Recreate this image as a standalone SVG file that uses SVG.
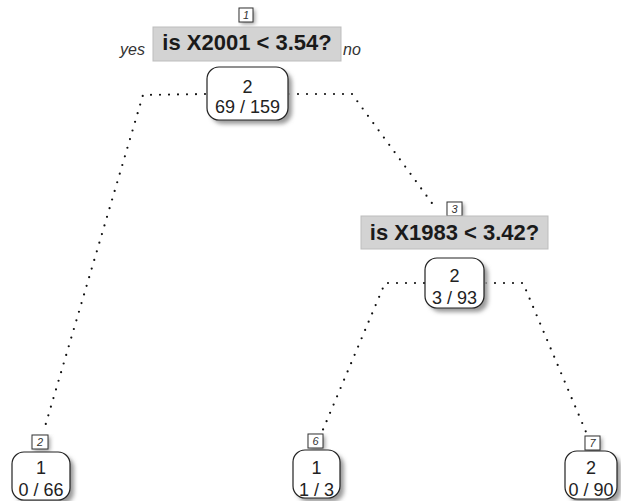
<svg xmlns="http://www.w3.org/2000/svg" width="621" height="501" viewBox="0 0 621 501">
<defs>
<filter id="sh" x="-20%" y="-20%" width="150%" height="150%">
<feGaussianBlur stdDeviation="2"/>
</filter>
</defs>
<style>
.split{fill:#d3d3d3;stroke:#bdbdbd;stroke-width:1}
.splittxt{font-family:"Liberation Sans",Arial,sans-serif;font-weight:bold;font-size:22px;fill:#1a1a1a;text-anchor:middle}
.node{fill:#ffffff;stroke:#222;stroke-width:1.2}
.shadow{fill:#9a9a9a;filter:url(#sh)}
.ntxt{font-family:"Liberation Sans",Arial,sans-serif;font-size:18px;fill:#222;text-anchor:middle}
.lbl{fill:#fff;stroke:#333;stroke-width:1}
.lbltxt{font-family:"Liberation Sans",Arial,sans-serif;font-style:italic;font-size:11px;fill:#333;text-anchor:middle}
.yn{font-family:"Liberation Sans",Arial,sans-serif;font-style:italic;font-size:16px;fill:#333}
.edge{fill:none;stroke:#111;stroke-width:2.2;stroke-linecap:round;stroke-dasharray:0 9}
</style>
<rect width="621" height="501" fill="#ffffff"/>
<g id="connectors">
<polyline class="edge" points="205,94 143,95 44,430"/>
<polyline class="edge" points="289,94 352,94 437,210"/>
<polyline class="edge" points="424,283 385,283 322,432"/>
<polyline class="edge" points="486,283 523,283 586,432"/>
</g>
<g id="node1">
<rect x="241" y="10" width="14" height="14" class="shadow"/>
<rect x="239" y="8" width="14" height="14" class="lbl"/>
<text x="246" y="19" class="lbltxt">1</text>
<rect x="153" y="27" width="188" height="34" class="split"/>
<text x="247" y="50" class="splittxt">is X2001 &lt; 3.54?</text>
<text x="120" y="55" class="yn">yes</text>
<text x="343" y="55" class="yn">no</text>
<rect x="211" y="71" width="81" height="53" rx="12" class="shadow"/>
<rect x="207" y="67" width="81" height="53" rx="12" class="node"/>
<text x="247.5" y="93" class="ntxt">2</text>
<text x="247.5" y="113" class="ntxt">69 / 159</text>
</g>
<g id="node3">
<rect x="449" y="204" width="15" height="14" class="shadow"/>
<rect x="447" y="202" width="15" height="14" class="lbl"/>
<text x="454.5" y="213" class="lbltxt">3</text>
<rect x="361" y="216" width="187" height="33" class="split"/>
<text x="454.5" y="240" class="splittxt">is X1983 &lt; 3.42?</text>
<rect x="429" y="262" width="59" height="50" rx="12" class="shadow"/>
<rect x="425" y="258" width="59" height="50" rx="12" class="node"/>
<text x="454.5" y="282" class="ntxt">2</text>
<text x="454.5" y="304" class="ntxt">3 / 93</text>
</g>
<g id="node2">
<rect x="34" y="437" width="16" height="14" class="shadow"/>
<rect x="32" y="435" width="16" height="14" class="lbl"/>
<text x="40" y="446" class="lbltxt">2</text>
<rect x="16" y="456" width="58" height="48" rx="12" class="shadow"/>
<rect x="12" y="452" width="58" height="48" rx="12" class="node"/>
<text x="41" y="474" class="ntxt">1</text>
<text x="41" y="496" class="ntxt">0 / 66</text>
</g>
<g id="node6">
<rect x="310" y="436" width="15" height="14" class="shadow"/>
<rect x="308" y="434" width="15" height="14" class="lbl"/>
<text x="315.5" y="445" class="lbltxt">6</text>
<rect x="297" y="454" width="47" height="48" rx="12" class="shadow"/>
<rect x="293" y="450" width="47" height="48" rx="12" class="node"/>
<text x="316.5" y="474" class="ntxt">1</text>
<text x="316.5" y="496" class="ntxt">1 / 3</text>
</g>
<g id="node7">
<rect x="587" y="438" width="15" height="14" class="shadow"/>
<rect x="585" y="436" width="15" height="14" class="lbl"/>
<text x="592.5" y="447" class="lbltxt">7</text>
<rect x="569" y="455" width="52" height="48" rx="12" class="shadow"/>
<rect x="565" y="451" width="52" height="48" rx="12" class="node"/>
<text x="591" y="474" class="ntxt">2</text>
<text x="591" y="496" class="ntxt">0 / 90</text>
</g>
</svg>
